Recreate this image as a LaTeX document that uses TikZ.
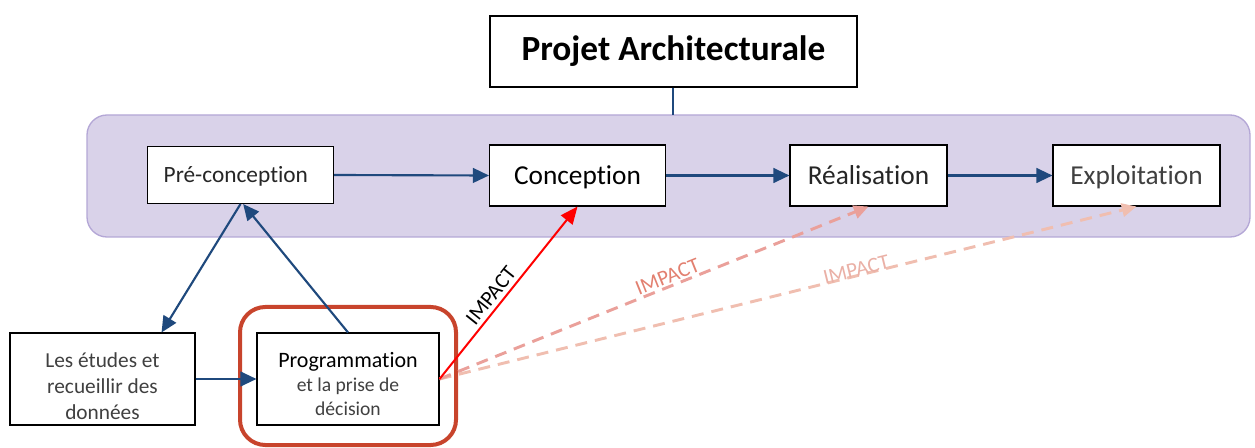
\documentclass[tikz,border=0pt]{standalone}
\usepackage{fontspec}
\setmainfont{Carlito}[Ligatures=NoCommon]
\usetikzlibrary{arrows.meta}
\definecolor{navy}{RGB}{31,73,125}
\definecolor{lav}{RGB}{217,210,233}
\definecolor{lavb}{RGB}{180,167,214}
\definecolor{redbox}{RGB}{200,68,44}
\definecolor{pinkA}{RGB}{234,160,154}
\definecolor{pinkB}{RGB}{240,190,176}
\definecolor{txtA}{RGB}{226,128,112}
\definecolor{txtB}{RGB}{234,176,166}
\tikzset{
  box/.style={draw=black, line width=0.8pt, fill=white, inner sep=0pt, align=center, text=black!85},
  stage/.style={box, text height=12.8pt, text depth=0pt},
  flow/.style={draw=navy, line width=1.6pt, -{Triangle[length=12pt,width=11pt]}},
  impact/.style={draw=red, line width=1.5pt, -{Triangle[length=13pt,width=11pt]}},
  impA/.style={draw=pinkA, line width=2.2pt, dash pattern=on 9pt off 6pt, -{Triangle[length=11pt,width=10pt]}},
  impB/.style={draw=pinkB, line width=2.2pt, dash pattern=on 9pt off 6pt, -{Triangle[length=11pt,width=10pt]}},
  lbl/.style={font=\fontsize{16}{18}\selectfont, sloped, above},
}
\begin{document}
\begin{tikzpicture}[x=0.75pt,y=-0.75pt]
\useasboundingbox (0,0) rectangle (1255,448);
\begin{scope}
\clip (0,0) rectangle (1255,448);
% purple band
\draw[fill=lav, draw=lavb, line width=1pt, rounded corners=15pt] (87,115) rectangle (1250,237);
\coordinate (bandtop) at (673,115);
% title
\node[box, minimum width=275.25pt, minimum height=53.25pt, font=\fontsize{26.5}{30}\selectfont\bfseries, text=black] (title) at (673.5,51.5) {Projet Architecturale};
\draw[navy, line width=1.6pt] (title.south -| bandtop) -- (bandtop);
% stage boxes
\node[stage, text height=12pt, minimum width=139.5pt, minimum height=42.75pt, font=\fontsize{17.5}{20}\selectfont] (pre) at (240.5,175) {\hspace*{-7pt}Pré-conception};
\node[stage, minimum width=132pt, minimum height=45.75pt, font=\fontsize{20.5}{24}\selectfont, text=black] (conc) at (577.5,175.5) {Conception};
\node[stage, minimum width=117.75pt, minimum height=45.75pt, font=\fontsize{20.5}{24}\selectfont] (real) at (868.5,175.5) {Réalisation};
\node[stage, minimum width=125.25pt, minimum height=45.75pt, font=\fontsize{20.5}{24}\selectfont, text=black!75] (expl) at (1136.5,175.5) {Exploitation};
% red highlight
\draw[redbox, line width=3pt, rounded corners=19pt] (240,307) rectangle (456,445);
% lower boxes
\node[box, minimum width=138.75pt, minimum height=69pt, font=\fontsize{16}{19.5}\selectfont, text=black!75] (etud) at (102.5,379) {\raisebox{-7pt}[\height][\depth]{\begin{tabular}{@{}c@{}}Les études et\\recueillir des\\données\end{tabular}}};
\node[box, minimum width=136.5pt, minimum height=69pt, font=\fontsize{16.5}{18}\selectfont, text=black] (prog) at (348,379) {\raisebox{-5.6pt}[\height][\depth]{\begin{tabular}{@{}c@{}}Programmation\\{\fontsize{14.7}{18}\selectfont\color{black!75}et la prise de}\\{\fontsize{14.7}{18}\selectfont\color{black!75}décision}\end{tabular}}};
% flows
\draw[flow] (pre.east) -- (conc.west);
\draw[flow] (conc.east) -- (real.west);
\draw[flow] (real.east) -- (expl.west);
\draw[flow] (pre.south) -- ([xshift=-25.5pt]etud.north east);
\draw[flow] (prog.north) -- ([xshift=2pt]pre.south);
\draw[flow] (etud.east) -- (prog.west);
% impacts
\draw[impB] (prog.east) -- (expl.south) node[lbl, pos=0.6, text=txtB, inner sep=0pt, yshift=-2pt] {IMPACT};
\draw[impA] (prog.east) -- (real.south) node[lbl, pos=0.54, text=txtA, inner sep=1pt] {IMPACT};
\draw[impact] (prog.east) -- (conc.south) node[lbl, pos=0.44, text=black, inner sep=3pt] {IMPACT};
\end{scope}
\end{tikzpicture}
\end{document}
